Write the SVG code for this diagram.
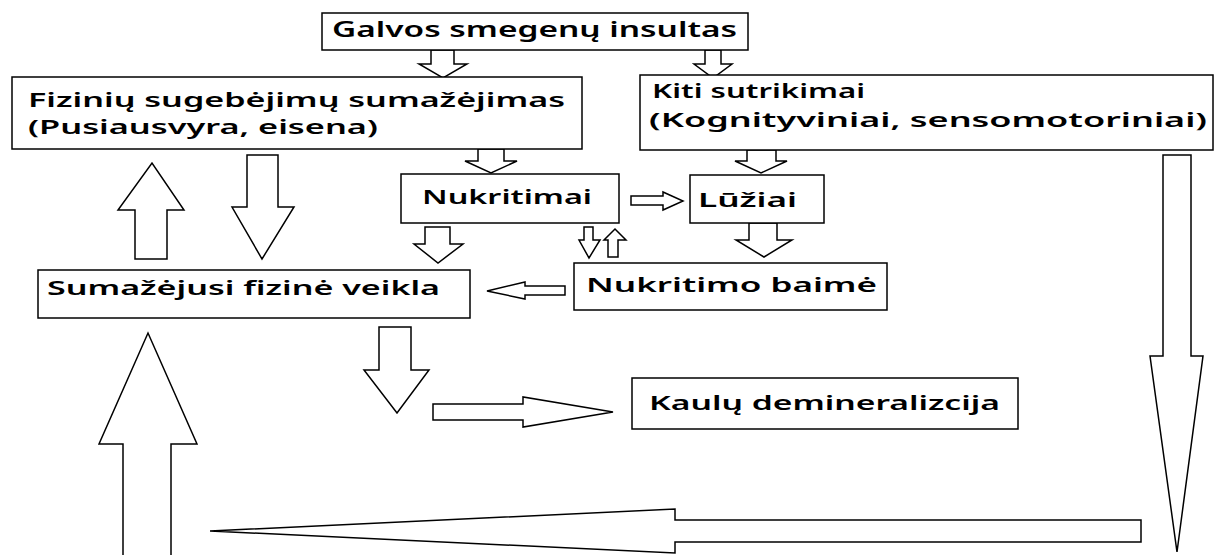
<svg xmlns="http://www.w3.org/2000/svg" width="1217" height="555" viewBox="0 0 1217 555">
<style>
.box{fill:#fff;stroke:#000;stroke-width:1.5}
.arr{fill:#fff;stroke:#000;stroke-width:1.5;stroke-linejoin:miter}
text{font-family:"Noto Sans","DejaVu Sans",sans-serif;font-weight:600;font-size:20px;fill:#000}
</style>
<rect width="1217" height="555" fill="#fff"/>
<g id="connectors">
<polygon class="arr" points="431,50 454,50 454,64 467,64 443,78 419,64 431,64"/>
<polygon class="arr" points="705,50 721,50 721,64 732,64 713,78 694,64 705,64"/>
<polygon class="arr" points="478,149 504,149 504,161 517,161 491,173 465,161 478,161"/>
<polygon class="arr" points="747,150 776,150 776,161 787,161 761,173 735,161 747,161"/>
<polygon class="arr" points="631,196 663,196 663,192 683,201 663,210 663,205 631,205"/>
<polygon class="arr" points="749,223 777,223 777,240 792,240 764,257 736,240 749,240"/>
<polygon class="arr" points="425,227 450,227 450,244 463,244 438,263 414,244 425,244"/>
<polygon class="arr" points="584,227 593,227 593,240 600,240 589,258 579,240 584,240"/>
<polygon class="arr" points="608,257 618,257 618,240 626,240 615,229 604,240 608,240"/>
<polygon class="arr" points="565,286 525,286 525,282 487,291 525,299 525,295 565,295"/>
<polygon class="arr" points="135,259 167,259 167,210 184,210 152,163 118,210 135,210"/>
<polygon class="arr" points="247,155 278,155 278,207 294,207 262,259 232,207 247,207"/>
<polygon class="arr" points="123,560 171,560 171,444 197,444 148,333 99,444 123,444"/>
<polygon class="arr" points="379,327 411,327 411,370 429,370 397,413 364,370 379,370"/>
<polygon class="arr" points="433,404 523,404 523,397 613,412 523,427 523,420 433,420"/>
<polygon class="arr" points="1163,155 1191,155 1191,356 1203,356 1177,552 1150,356 1163,356"/>
<polygon class="arr" points="1141,520 675,520 675,509 210,531 675,553 675,542 1141,542"/>
</g>
<g id="n-stroke">
<rect class="box" x="322" y="13" width="426" height="37"/>
<text x="332" y="37" style="font-size:22px" textLength="405" lengthAdjust="spacingAndGlyphs">Galvos smegenų insultas</text>
</g>
<g id="n-physical">
<rect class="box" x="12" y="77" width="570" height="72"/>
<text x="28" y="107" textLength="537" lengthAdjust="spacingAndGlyphs">Fizinių sugebėjimų sumažėjimas</text>
<text x="28" y="134" textLength="350" lengthAdjust="spacingAndGlyphs">(Pusiausvyra, eisena)</text>
</g>
<g id="n-other">
<rect class="box" x="640" y="75" width="573" height="75"/>
<text x="652" y="98" textLength="213" lengthAdjust="spacingAndGlyphs">Kiti sutrikimai</text>
<text x="649" y="127" textLength="558" lengthAdjust="spacingAndGlyphs">(Kognityviniai, sensomotoriniai)</text>
</g>
<g id="n-falls">
<rect class="box" x="401" y="174" width="218" height="49"/>
<text x="422" y="204" textLength="170" lengthAdjust="spacingAndGlyphs">Nukritimai</text>
</g>
<g id="n-fractures">
<rect class="box" x="690" y="175" width="134" height="48"/>
<text x="698" y="207" textLength="99" lengthAdjust="spacingAndGlyphs">Lūžiai</text>
</g>
<g id="n-fear">
<rect class="box" x="574" y="263" width="313" height="47"/>
<text x="586" y="292" textLength="291" lengthAdjust="spacingAndGlyphs">Nukritimo baimė</text>
</g>
<g id="n-activity">
<rect class="box" x="38" y="270" width="432" height="48"/>
<text x="47" y="295" textLength="393" lengthAdjust="spacingAndGlyphs">Sumažėjusi fizinė veikla</text>
</g>
<g id="n-bone">
<rect class="box" x="632" y="378" width="386" height="51"/>
<text x="649" y="410" textLength="351" lengthAdjust="spacingAndGlyphs">Kaulų demineralizcija</text>
</g>
</svg>
